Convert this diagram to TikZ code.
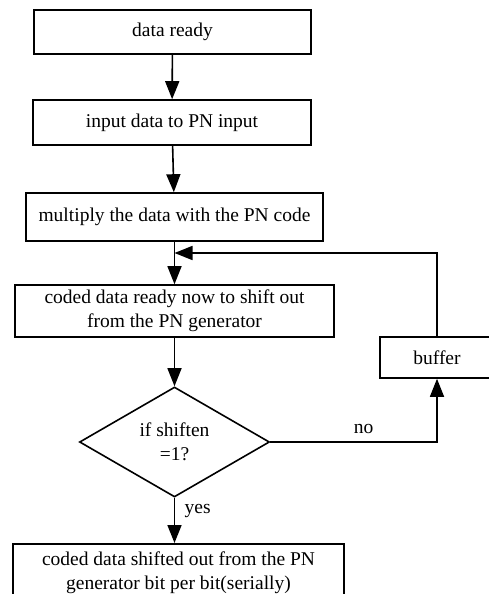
\documentclass[tikz,border=0pt]{standalone}
\usepackage{fontspec}
\setmainfont{Liberation Serif}
\usetikzlibrary{arrows.meta,shapes.geometric}
\tikzset{stepbox/.style={draw,line width=1.6pt,minimum height=44pt,align=center,inner sep=0pt},
         decision/.style={draw,diamond,line width=1.6pt,align=center,inner sep=0pt},
         flow/.style={line width=1.6pt,-{Triangle[width=14pt,length=18pt]}}}

\begin{document}
\begin{tikzpicture}[x=1pt,y=-1pt,font=\fontsize{19.5}{24}\selectfont]
                \useasboundingbox (0,0) rectangle (489,594);

                \node[stepbox,minimum width=277pt] (ready) at (172.5,32) {data ready};
                \node[stepbox,minimum width=278pt,minimum height=45pt] (input) at (172,122.5) {input data to PN input};
                \node[stepbox,minimum width=297pt,minimum height=48pt] (mult) at (174.5,217) {multiply the data with the PN code};
                \node[stepbox,minimum width=319pt,minimum height=52pt] (coded) at (174.5,311)
                    {coded data ready now to shift out\\from the PN generator};
                \node[stepbox,minimum width=114pt,minimum height=41pt] (buffer) at (437,357.5) {buffer};
                \node[decision,minimum width=190pt,minimum height=110pt] (shift) at (174.5,442) {if shiften\\=1?};
                \node[stepbox,minimum width=331pt,minimum height=58pt,anchor=north] (out) at (178.5,543)
                    {coded data shifted out from the PN\\generator bit per bit(serially)};

                \coordinate (join) at (174.5,253);

                % main line down the chart
                \draw[flow] (ready) -- (input);
                \draw[flow] (input) -- (mult);
                \draw[flow] (mult) -- (coded);
                \draw[flow] (coded) -- (shift);
                \draw[flow] (shift) -- node[right=6pt,pos=0.3] {yes} (out.north -| shift.south);

                % loop back through the buffer
                \draw[flow] (shift.east) -| node[above,pos=0.28,yshift=4pt] {no} (buffer.south);
                \draw[flow] (buffer.north) |- (join);
\end{tikzpicture}
\end{document}
